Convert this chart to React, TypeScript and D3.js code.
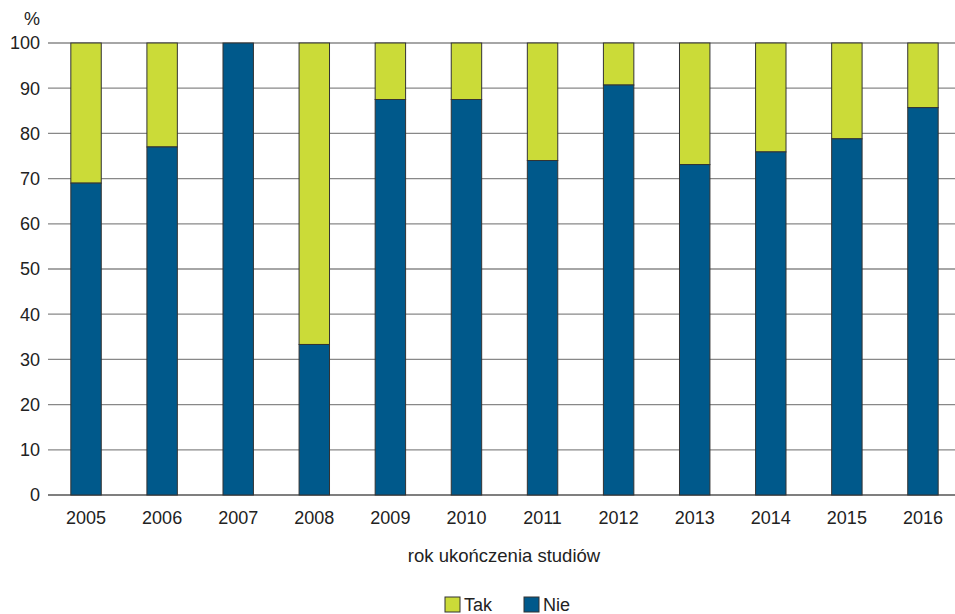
import React from "react";
import * as d3 from "d3";

const years = ["2005","2006","2007","2008","2009","2010","2011","2012","2013","2014","2015","2016"];
const nie = [69, 77, 100, 33.3, 87.5, 87.5, 74, 90.7, 73.1, 75.9, 78.8, 85.7];
const yTicks = [0,10,20,30,40,50,60,70,80,90,100];

const GREEN = "#cbdb38";
const BLUE = "#00598b";
const FONT = "'Liberation Sans', Arial, sans-serif";

export default function App() {
  const W = 955, H = 614;
  const x = d3.scaleBand<string>().domain(years).range([48, 961]).paddingInner(0.6).paddingOuter(0.3);
  const y = d3.scaleLinear().domain([0, 100]).range([495, 43]);
  return (
    <svg width={W} height={H} style={{ position: "absolute", left: 0, top: 0, background: "#fff" }} fontFamily={FONT}>
      {yTicks.map(t => (
        <g key={t}>
          <line x1={48} x2={955} y1={y(t)} y2={y(t)} stroke={t === 0 ? "#555" : "#888"} strokeWidth={t === 0 ? 1.5 : 1.3} />
          <text x={40} y={y(t)} dy="0.35em" textAnchor="end" fontSize={18} fill="#222">{t}</text>
        </g>
      ))}
      <text x={32} y={19} dy="0.35em" textAnchor="middle" fontSize={18} fill="#222">%</text>
      {years.map((yr, i) => (
        <g key={yr}>
          <rect x={x(yr)} y={y(100)} width={x.bandwidth()} height={y(nie[i]) - y(100)} fill={GREEN} stroke="#333" strokeWidth={1} />
          <rect x={x(yr)} y={y(nie[i])} width={x.bandwidth()} height={y(0) - y(nie[i])} fill={BLUE} stroke="#333" strokeWidth={1} />
          <text x={(x(yr) as number) + x.bandwidth() / 2} y={518} dy="0.35em" textAnchor="middle" fontSize={18} fill="#222">{yr}</text>
        </g>
      ))}
      <text x={504} y={556} dy="0.35em" textAnchor="middle" fontSize={18.5} fill="#222">rok ukończenia studiów</text>
      <rect x={445} y={597} width={15} height={15} fill={GREEN} stroke="#333" strokeWidth={1} />
      <text x={464} y={605} dy="0.35em" fontSize={18} fill="#222">Tak</text>
      <rect x={524} y={597} width={15} height={15} fill={BLUE} stroke="#333" strokeWidth={1} />
      <text x={543} y={605} dy="0.35em" fontSize={18} fill="#222">Nie</text>
    </svg>
  );
}
